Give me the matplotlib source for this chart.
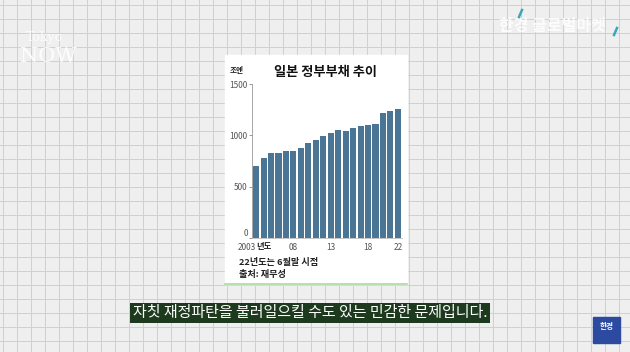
import matplotlib
matplotlib.use("Agg")
import matplotlib.pyplot as plt
from matplotlib.patches import Rectangle

plt.rcParams["font.family"] = ["Noto Sans CJK KR", "DejaVu Sans"]

# data (조엔)
years = list(range(2003, 2023))
debt = [700, 778, 826, 830, 843, 843, 879, 921, 957, 993,
        1022, 1051, 1045, 1071, 1087, 1103, 1113, 1217, 1240, 1259]
tick_years = [2003, 2008, 2013, 2018, 2022]
tick_labels = ["2003", "08", "13", "18", "22"]
y_ticks = [0, 500, 1000, 1500]

title = "일본 정부부채 추이"
unit = "조엔"
note = "22년도는 6월말 시점"
source = "출처: 재무성"
caption = "자칫 재정파탄을 불러일으킬 수도 있는 민감한 문제입니다."

W, H = 630, 352
fig = plt.figure(figsize=(W / 100, H / 100), dpi=100)

# grid-paper background
bg = fig.add_axes([0, 0, 1, 1])
bg.set_xlim(0, W)
bg.set_ylim(H, 0)
bg.axis("off")
bg.add_patch(Rectangle((0, 0), W, H, color="#efefef", zorder=0))
for gx in range(3, W, 14):
    bg.axvline(gx, color="#d0d0d0", lw=0.7, zorder=1)
for gy in range(5, H, 14):
    bg.axhline(gy, color="#d0d0d0", lw=0.7, zorder=1)

# white card
bg.add_patch(Rectangle((225, 55), 182, 229, color="white", zorder=2))
bg.plot([225, 407], [284, 284], color="#a8dca0", lw=1.2, zorder=3)

bg.text(230, 71, unit, fontsize=5.5, fontweight="bold", color="#222", va="center", zorder=4)
bg.text(326, 72, title, fontsize=9.5, fontweight="bold", color="#111",
        ha="center", va="center", zorder=4)
bg.text(239, 263, note, fontsize=6.6, fontweight="bold", color="#222", va="center", zorder=4)
bg.text(239, 275, source, fontsize=6.6, fontweight="bold", color="#222", va="center", zorder=4)

# caption box
bg.text(310, 313, caption, fontsize=10.8, color="white", ha="center", va="center", zorder=4,
        bbox=dict(boxstyle="square,pad=0.2", fc="#1e3a1e", ec="none"))

# logos (faint)
bg.text(44, 38, "Tokyo", fontsize=9, color="white", alpha=0.85, ha="center", va="center",
        family="DejaVu Serif", zorder=4)
bg.text(48, 56, "NOW", fontsize=15, color="white", alpha=0.85, ha="center", va="center",
        family="DejaVu Serif", zorder=4)
bg.text(552, 26, "한경 글로벌마켓", fontsize=11.5, fontweight="bold", color="white", alpha=0.85,
        ha="center", va="center", zorder=4)
bg.plot([519, 522], [17, 10], color="#3aa8b8", lw=1.8, zorder=5)
bg.plot([614, 617], [35, 28], color="#3aa8b8", lw=1.8, zorder=5)
bg.add_patch(Rectangle((593, 317), 27, 26, color="#2c4aa0", zorder=4))
bg.text(606.5, 327, "한경", fontsize=5.5, fontweight="bold", color="white",
        ha="center", va="center", zorder=5)

# bar chart
ax = fig.add_axes([252 / W, 1 - 238 / H, 150 / W, (238 - 84) / H])
ax.bar(range(len(years)), debt, width=0.82, color="#4b7594", zorder=2)
ax.set_xlim(-0.55, len(years) - 0.45)
ax.set_ylim(0, 1500)
ax.set_yticks(y_ticks)
ax.set_yticklabels([str(v) for v in y_ticks], fontsize=6, color="#555")
ax.set_xticks([years.index(y) for y in tick_years])
ax.set_xticklabels(tick_labels, fontsize=6, color="#555")
ax.get_xticklabels()[0].set_ha("right")
ax.tick_params(axis="x", length=0, pad=3.5)
ax.tick_params(axis="y", length=2, width=0.6, color="#888", pad=1)
ax.get_yticklabels()[0].set_va("bottom")
for side in ("top", "right"):
    ax.spines[side].set_visible(False)
ax.spines["left"].set_color("#999")
ax.spines["left"].set_linewidth(0.6)
ax.spines["bottom"].set_color("#bbb")
ax.spines["bottom"].set_linewidth(0.6)
ax.set_facecolor("white")
bg.text(256, 246, "년도", fontsize=6, fontweight="bold", color="#222", va="center", zorder=4)

fig.savefig("out.png", dpi=100)
